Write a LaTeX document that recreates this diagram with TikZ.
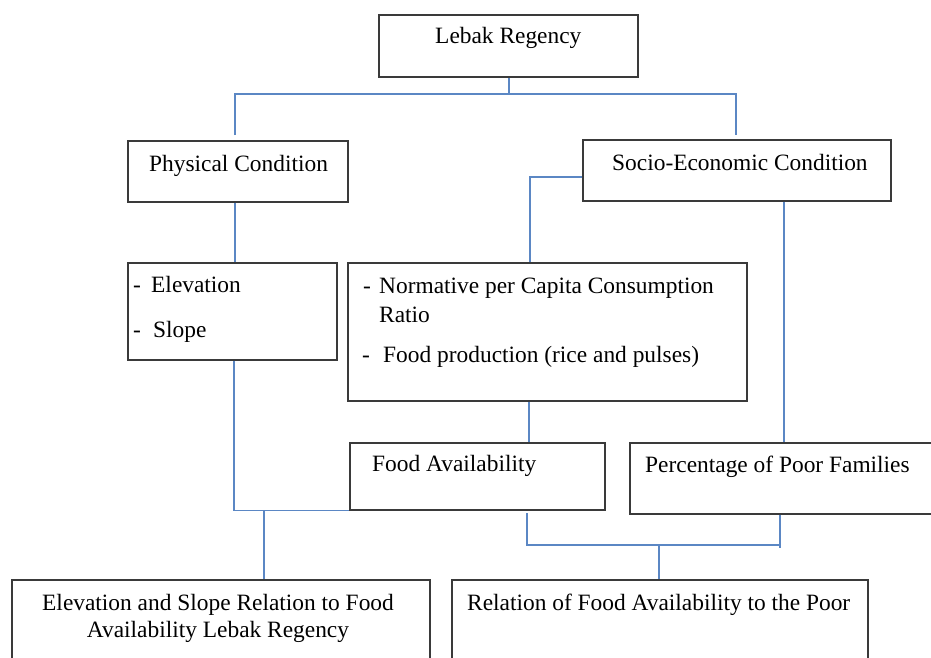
\documentclass[tikz,border=0pt]{standalone}
\usepackage{fontspec}
\setmainfont{Liberation Serif}
\definecolor{conncol}{HTML}{5B87C4}
\definecolor{boxcol}{HTML}{3A3A3A}
\begin{document}
\begin{tikzpicture}[x=1pt,y=-1pt,
  box/.style={draw=boxcol,line width=1.3pt,rectangle,inner sep=0pt},
  conn/.style={draw=conncol,line width=1.1pt},
  txt/.style={inner sep=0pt,anchor=base west,font=\fontsize{23.4}{27}\selectfont},
  ctxt/.style={inner sep=0pt,anchor=base,font=\fontsize{23.4}{27}\selectfont}]
\useasboundingbox (0,0) rectangle (931,657);
\clip (0,0) rectangle (931,657);
% boxes
\node[box,minimum width=259pt,minimum height=62pt] (lebak) at (508.5,46) {};
\node[box,minimum width=220pt,minimum height=61pt] (phys) at (238,171.5) {};
\node[box,minimum width=308pt,minimum height=61pt] (socio) at (737,170.5) {};
\node[box,minimum width=209pt,minimum height=97pt] (elev) at (232.5,311.5) {};
\node[box,minimum width=399pt,minimum height=138pt] (norm) at (547.5,332) {};
\node[box,minimum width=255pt,minimum height=67pt] (food) at (477.5,476.5) {};
\node[box,minimum width=330pt,minimum height=71pt] (poor) at (795,478.5) {};
\node[box,minimum width=418pt,minimum height=120pt] (relA) at (221,640) {};
\node[box,minimum width=416pt,minimum height=120pt] (relB) at (660,640) {};
% texts
\node[txt] (tlebak) at (435,43) {Lebak Regency};
\node[txt] (tphys) at (149,171) {Physical Condition};
\node[txt] (tsocio) at (612,170) {Socio-Economic Condition};
\node[txt] (te1d) at (133,292) {-};
\node[txt] (te1) at (151,292) {Elevation};
\node[txt] (te2d) at (133,337) {-};
\node[txt] (te2) at (153,337) {Slope};
\node[txt] (tn1d) at (363,293) {-};
\node[txt] (tn1) at (379,293) {Normative per Capita Consumption};
\node[txt] (tn2) at (379,322) {Ratio};
\node[txt] (tn3d) at (362,362) {-};
\node[txt] (tn3) at (383,362) {Food production (rice and pulses)};
\node[txt] (tfood) at (372,471) {Food Availability};
\node[txt] (tpoor) at (645,472) {Percentage of Poor Families};
\node[ctxt] (tra1) at (218,610) {Elevation and Slope Relation to Food};
\node[ctxt] (tra2) at (218,637) {Availability Lebak Regency};
\node[txt] (trb) at (467,610) {Relation of Food Availability to the Poor};
% connector points
\coordinate (top) at (509,94);
\coordinate (pL) at (235,135);
\coordinate (pR) at (736,135);
\coordinate (jA) at (264,510);
\coordinate (jB) at (659,545);
\coordinate (fEnd) at (527,513);
\coordinate (pEnd) at (780,548);
% connectors
\draw[conn] (lebak.south -| top) -- (top);
\draw[conn] (pL) -- (pL |- top) -- (pR |- top) -- (pR);
\draw[conn] (phys.south -| 235,0) -- (elev.north -| 235,0);
\draw[conn] (socio.west |- 0,177) -| (norm.north -| 530,0);
\draw[conn] (socio.south -| 784,0) -- (poor.north -| 784,0);
\draw[conn] (norm.south -| 529,0) -- (food.north -| 529,0);
\draw[conn] (elev.south -| 234,0) |- (food.south west);
\draw[conn] (jA) -- (relA.north -| jA);
\draw[conn] (fEnd) |- (jB) -- (jB -| pEnd);
\draw[conn] (poor.south -| pEnd) -- (pEnd);
\draw[conn] (jB) -- (relB.north -| jB);
\end{tikzpicture}
\end{document}
